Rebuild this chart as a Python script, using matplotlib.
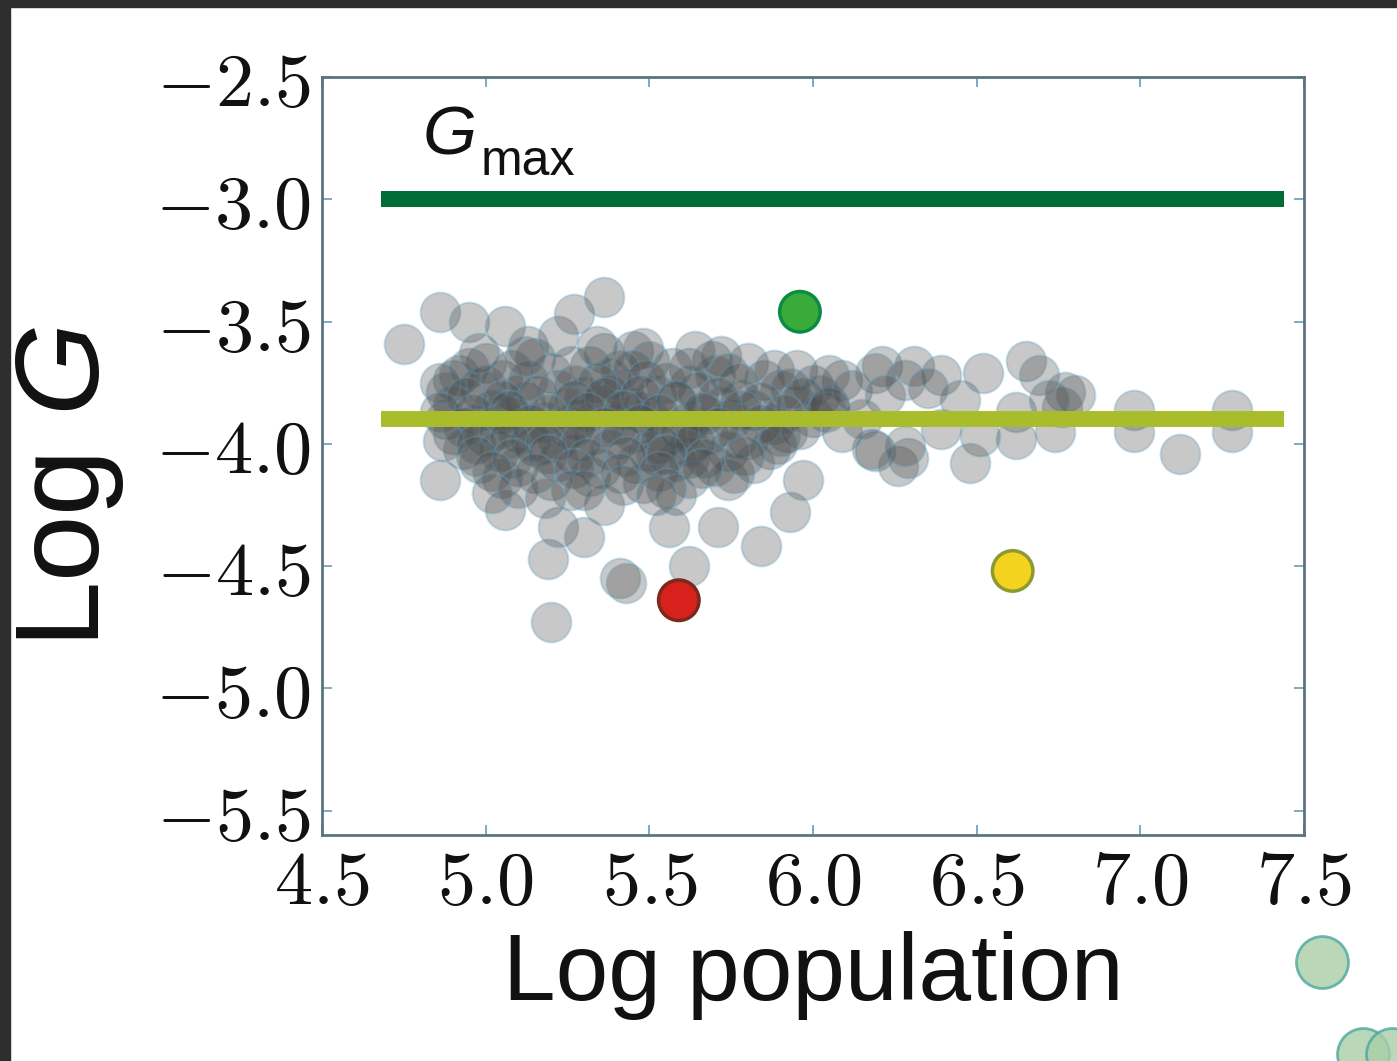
import matplotlib
matplotlib.use("Agg")
import matplotlib.pyplot as plt
from matplotlib.patches import Rectangle

plt.rcParams['mathtext.fontset'] = 'cm'
plt.rcParams['mathtext.rm'] = 'Liberation Sans'
plt.rcParams['mathtext.it'] = 'Liberation Sans:italic'

# cities: log population vs log G (grey cloud)
pop_x = [4.75, 4.86, 4.95, 5.06, 5.13, 5.22, 5.27, 5.36, 5.36, 5.45, 5.69, 4.90, 5.48, 5.72, 6.21,
         4.86, 5.06, 5.19, 5.20, 5.41, 5.22, 5.36, 5.30, 5.74, 5.71, 5.56, 5.62, 5.84, 5.93, 5.97,
         5.58, 5.43, 6.19, 6.26, 5.62,
         6.09, 6.19, 6.28, 6.31, 6.39, 6.45, 6.52, 6.65, 6.69, 6.77, 6.76, 6.62, 6.62, 6.51, 6.48,
         6.29, 6.28, 6.18, 6.09, 6.98, 6.98, 7.12, 7.28, 7.28, 6.39, 6.74,
         5.00, 5.15, 5.32, 5.50, 5.62, 5.80, 5.95,
         4.92, 5.05, 5.20, 5.38, 5.45, 5.55, 5.70, 5.85, 6.00,
         4.88, 4.98, 5.10, 5.22, 5.30, 5.42, 5.52, 5.65, 5.78, 5.90, 6.02,
         4.90, 5.02, 5.12, 5.25, 5.35, 5.47, 5.58, 5.72, 5.82, 5.95,
         4.88, 4.97, 5.08, 5.18, 5.28, 5.40, 5.50, 5.62, 5.75, 5.88, 6.00,
         4.90, 5.00, 5.10, 5.22, 5.33, 5.45, 5.55, 5.68, 5.80, 5.92,
         4.93, 5.04, 5.15, 5.27, 5.38, 5.50, 5.62, 5.74, 5.87,
         4.98, 5.10, 5.22, 5.35, 5.46, 5.58, 5.70, 5.82,
         5.05, 5.20, 5.32, 5.48, 5.62, 5.76,
         5.05, 5.27, 5.44, 5.60, 5.14, 5.38, 5.52, 5.67, 5.90, 6.05,
         4.95, 5.08, 5.26, 5.41, 5.57, 5.74, 5.88, 6.05,
         4.86, 5.00, 5.13, 5.27, 5.34, 5.49, 5.62, 5.77, 5.93,
         4.94, 5.05, 5.16, 5.27, 5.36, 5.47, 5.58, 5.71, 5.84, 5.97,
         4.86, 4.96, 5.07, 5.19, 5.31, 5.42, 5.53, 5.66, 5.78, 5.91, 6.04,
         4.93, 5.04, 5.14, 5.25, 5.36, 5.47, 5.59, 5.71, 5.84, 5.96,
         4.87, 4.97, 5.07, 5.18, 5.29, 5.41, 5.53, 5.64, 5.77, 5.89,
         4.97, 5.08, 5.19, 5.31, 5.43, 5.55, 5.67, 5.79,
         5.02, 5.15, 5.27, 5.41, 5.53, 5.66,
         5.10, 5.26, 5.42, 5.55,
         6.12, 6.22, 6.35, 6.72, 6.80, 6.05, 6.15,
         5.02, 5.18, 5.30, 5.52, 5.64, 5.12, 5.34, 4.98]
log_g = [-3.59, -3.46, -3.50, -3.52, -3.60, -3.56, -3.47, -3.40, -3.63, -3.62, -3.66, -3.74, -3.61, -3.64, -3.68,
         -4.15, -4.27, -4.47, -4.73, -4.55, -4.34, -4.25, -4.38, -4.15, -4.34, -4.34, -4.50, -4.42, -4.28, -4.15,
         -4.21, -4.57, -4.03, -4.09, -4.06,
         -3.74, -3.71, -3.74, -3.68, -3.72, -3.82, -3.71, -3.66, -3.72, -3.79, -3.85, -3.87, -3.98, -3.97, -4.08,
         -4.06, -4.01, -4.02, -3.95, -3.86, -3.95, -4.04, -3.86, -3.95, -3.94, -3.95,
         -3.67, -3.65, -3.68, -3.66, -3.69, -3.67, -3.70,
         -3.72, -3.74, -3.71, -3.73, -3.70, -3.75, -3.72, -3.74, -3.76,
         -3.79, -3.77, -3.80, -3.78, -3.81, -3.77, -3.80, -3.79, -3.82, -3.78, -3.80,
         -3.84, -3.86, -3.83, -3.85, -3.84, -3.87, -3.83, -3.85, -3.86, -3.84,
         -3.90, -3.92, -3.89, -3.91, -3.90, -3.92, -3.89, -3.91, -3.90, -3.92, -3.89,
         -3.96, -3.97, -3.95, -3.98, -3.96, -3.95, -3.97, -3.96, -3.98, -3.95,
         -4.02, -4.03, -4.01, -4.04, -4.02, -4.03, -4.01, -4.03, -4.02,
         -4.08, -4.09, -4.07, -4.10, -4.08, -4.07, -4.09, -4.08,
         -4.14, -4.15, -4.13, -4.16, -4.14, -4.12,
         -3.88, -3.93, -3.85, -3.95, -3.99, -3.80, -4.05, -3.88, -3.97, -3.84,
         -3.69, -3.70, -3.68, -3.70, -3.69, -3.71, -3.70, -3.72,
         -3.75, -3.76, -3.74, -3.76, -3.75, -3.74, -3.76, -3.75, -3.77,
         -3.81, -3.82, -3.80, -3.82, -3.81, -3.80, -3.82, -3.81, -3.83, -3.81,
         -3.87, -3.88, -3.86, -3.88, -3.87, -3.86, -3.88, -3.87, -3.86, -3.88, -3.87,
         -3.93, -3.94, -3.92, -3.94, -3.93, -3.92, -3.94, -3.93, -3.92, -3.94,
         -3.99, -4.00, -3.98, -4.00, -3.99, -3.98, -4.00, -3.99, -3.98, -4.00,
         -4.05, -4.06, -4.04, -4.06, -4.05, -4.04, -4.06, -4.05,
         -4.11, -4.12, -4.10, -4.12, -4.11, -4.10,
         -4.18, -4.19, -4.17, -4.18,
         -3.78, -3.80, -3.77, -3.82, -3.80, -3.85, -3.90,
         -4.20, -4.22, -4.19, -4.21, -3.62, -3.64, -3.60, -3.63]

# highlighted cities
hi_x = [5.96, 5.59, 6.61]
hi_y = [-3.46, -4.64, -4.52]
hi_face = ['#3aab3a', '#d8201c', '#f4d31e']
hi_edge = ['#0b8c45', '#7a2a1c', '#8c9a32']

g_max = -3.0
g_mean = -3.9
line_x = [4.68, 7.44]

xticks = [4.5, 5.0, 5.5, 6.0, 6.5, 7.0, 7.5]
yticks = [-5.5, -5.0, -4.5, -4.0, -3.5, -3.0, -2.5]

# bits of the neighbouring panel, in figure pixels
side_x = [1322, 1363, 1392]
side_y = [962, 1054, 1054]

fig = plt.figure(figsize=(13.97, 10.61), dpi=100)
fig.patch.set_facecolor('white')
fig.patches.append(Rectangle((0, 0), 10 / 1397, 1, transform=fig.transFigure, color='#2e2e2e', zorder=0))
fig.patches.append(Rectangle((0, 1 - 7 / 1061), 1, 7 / 1061, transform=fig.transFigure, color='#2e2e2e', zorder=0))

ax = fig.add_axes([322 / 1397, 1 - 835 / 1061, 982 / 1397, 758 / 1061])
ax.scatter(pop_x, log_g, s=820, facecolor='#4a4a4a', edgecolor='#5f9fc0', linewidth=1.5, alpha=0.3, zorder=2)
ax.plot(line_x, [g_max, g_max], color='#006c36', linewidth=11.5, solid_capstyle='butt', zorder=3)
ax.plot(line_x, [g_mean, g_mean], color='#a9bd2c', linewidth=11.5, solid_capstyle='butt', zorder=3)
ax.scatter(hi_x, hi_y, s=850, c=hi_face, edgecolors=hi_edge, linewidth=2.5, zorder=4)

# G_max label: italic G with a fairly large upright subscript
ax.text(4.808, -2.818, 'G', fontsize=50, family='Liberation Sans', style='italic', color='#111111')
ax.text(4.985, -2.90, 'max', fontsize=36, family='Liberation Sans', color='#111111')

ax.set_xlim(4.5, 7.5)
ax.set_ylim(-5.6, -2.5)
ax.set_xticks(xticks, labels=[r'$%.1f$' % v for v in xticks])
ax.set_yticks(yticks, labels=[r'$%.1f$' % v for v in yticks])
ax.tick_params(direction='in', length=7, width=1.2, color='#6a9cb5', labelsize=55,
               top=True, right=True, pad=8, labelcolor='#111111')
for sp in ax.spines.values():
    sp.set_color('#5b7380')
    sp.set_linewidth(2)

ax.set_xlabel(r'Log population', fontsize=68, family='Liberation Sans', labelpad=8, color='#111111')
ax.set_ylabel(r'Log $G$', fontsize=86, family='Liberation Sans', math_fontfamily='custom',
              color='#111111')
ax.yaxis.set_label_coords(-0.2, 0.46)

ov = fig.add_axes([0, 0, 1, 1], zorder=-1)
ov.set_xlim(0, 1397)
ov.set_ylim(1061, 0)
ov.axis('off')
ov.scatter(side_x, side_y, s=1400, facecolor='#a9cfa6', edgecolor='#4ea7a0', linewidth=2, alpha=0.8)

fig.savefig('out.png', dpi=100, facecolor='white')
